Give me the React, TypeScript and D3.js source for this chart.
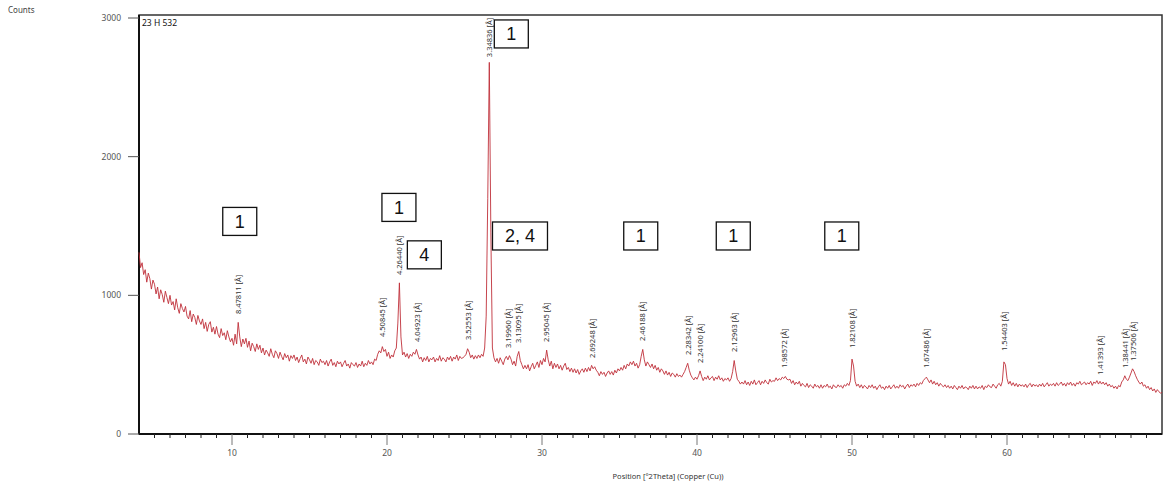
// @ts-nocheck
import React, { useEffect, useRef } from 'react';
import * as d3 from 'd3';

// scan: counts every 0.1 °2Theta starting at 4.0
const thetaStart = 4;
const thetaStep = 0.1;
const counts = [
  1310, 1200, 1235, 1150, 1185, 1095, 1160, 1120, 1045, 1110,
  1080, 1010, 1060, 975, 1040, 1005, 950, 1030, 985, 940,
  1000, 930, 955, 895, 975, 910, 870, 940, 905, 880,
  920, 850, 830, 890, 810, 865, 840, 790, 855, 815,
  790, 830, 760, 805, 740, 790, 810, 735, 770, 720,
  775, 720, 695, 760, 710, 730, 680, 745, 700, 665,
  690, 640, 720, 650, 805, 700, 630, 685, 650, 690,
  625, 670, 600, 655, 630, 595, 650, 610, 640, 585,
  620, 570, 605, 585, 560, 615, 575, 550, 600, 580,
  545, 590, 560, 535, 580, 550, 570, 525, 565, 545,
  570, 530, 555, 515, 545, 570, 520, 540, 505, 555,
  535, 510, 545, 500, 530, 520, 495, 540, 515, 525,
  500, 530, 490, 520, 540, 495, 515, 485, 525, 505,
  520, 485, 510, 530, 490, 505, 475, 515, 500, 490,
  515, 480, 505, 490, 525, 485, 510, 495, 530, 505,
  520, 500, 540, 530, 575, 600, 585, 630, 595, 610,
  560, 590, 545, 570, 555, 600, 620, 800, 1090, 700,
  570, 590, 555, 580, 545, 575, 560, 590, 575, 610,
  570, 540, 555, 520, 550, 530, 560, 520, 545, 535,
  555, 520, 545, 530, 565, 525, 550, 540, 520, 555,
  535, 560, 525, 555, 540, 570, 530, 560, 545, 550,
  560, 575, 615, 590, 550, 570, 540, 565, 545, 570,
  550, 575, 560, 620, 850, 1700, 2680, 1450, 620, 550,
  520, 545, 510, 550, 525, 500, 540, 560, 535, 565,
  540, 500, 525, 490, 560, 595, 530, 500, 470, 495,
  470, 500, 455, 485, 510, 470, 495, 520, 480, 530,
  500, 545, 520, 605, 535, 490, 525, 470, 510, 480,
  505, 470, 495, 460, 490, 510, 465, 480, 450, 475,
  445, 470, 440, 465, 430, 455, 470, 445, 475, 450,
  480, 455, 495, 470, 485, 460, 445, 420, 450, 430,
  445, 415, 440, 455, 430, 450, 425, 460, 440, 470,
  455, 480, 460, 495, 470, 505, 490, 520, 500, 525,
  490, 510, 475, 500, 560, 610, 535, 490, 520, 500,
  480, 505, 470, 495, 460, 480, 445, 470, 455, 430,
  455, 425, 445, 415, 440, 430, 410, 435, 415, 425,
  410, 430, 450, 480, 510, 460, 425, 405, 390, 410,
  395, 420, 455, 415, 385, 410, 395, 420, 390, 405,
  415, 385, 410, 395, 420, 390, 405, 380, 400, 390,
  405, 380, 400, 450, 530, 455, 395, 380, 360, 375,
  360, 385, 355, 375, 350, 380, 360, 390, 355, 370,
  385, 355, 380, 365, 390, 370, 360, 395, 375, 385,
  380, 405, 385, 400, 390, 410, 400, 415, 395, 390,
  395, 365, 385, 355, 375, 360, 380, 345, 365, 350,
  340, 365, 335, 355, 345, 330, 360, 340, 350, 330,
  355, 330, 350, 340, 360, 335, 345, 325, 355, 340,
  335, 355, 340, 350, 330, 355, 345, 365, 350, 385,
  540, 490, 380, 345, 360, 335, 355, 330, 350, 340,
  325, 350, 335, 355, 330, 345, 320, 340, 355, 330,
  340, 320, 345, 330, 350, 325, 340, 355, 330, 345,
  330, 355, 340, 350, 325, 345, 360, 335, 355, 345,
  360, 340, 365, 350, 370, 360, 385, 398, 410, 390,
  370, 390, 360, 380, 355, 370, 345, 365, 350, 340,
  355, 335, 350, 330, 345, 325, 350, 335, 320, 345,
  330, 350, 325, 340, 335, 320, 345, 330, 350, 325,
  345, 325, 340, 330, 350, 320, 345, 335, 355, 340,
  335, 360, 345, 330, 355, 365, 345, 380, 520, 500,
  400, 360, 380, 350, 370, 345, 365, 340, 360, 345,
  355, 340, 360, 335, 355, 365, 340, 360, 345, 355,
  340, 360, 345, 365, 340, 355, 370, 345, 360, 350,
  365, 345, 370, 350, 360, 375, 350, 365, 345, 370,
  355, 375, 350, 365, 345, 370, 360, 380, 355, 365,
  375, 355, 370, 360, 380, 350, 375, 365, 385, 360,
  380, 360, 375, 355, 370, 345, 360, 340, 350, 330,
  345, 325, 350, 340, 375, 390, 420, 395, 385, 410,
  440, 470, 450, 420, 395, 375, 360, 375, 345, 355,
  330, 345, 320, 335, 310, 325, 300, 320, 305, 295,
  300,
];

// identified reflections (d-spacing) with their 2Theta and peak top counts
const peakD = [
  '8.47811', '4.50845', '4.26440', '4.04923', '3.52553', '3.34836', '3.19960',
  '3.13095', '2.95045', '2.69248', '2.46188', '2.28342', '2.24100', '2.12963',
  '1.98572', '1.82108', '1.67486', '1.54403', '1.41393', '1.38441', '1.37506',
];
const peakTheta = [
  10.43, 19.67, 20.81, 21.93, 25.24, 26.6, 27.86,
  28.49, 30.27, 33.25, 36.47, 39.43, 40.21, 42.41,
  45.65, 50.05, 54.77, 59.85, 66.02, 67.62, 68.14,
];
const peakCounts = [
  807, 642, 1089, 606, 620, 2660, 562,
  598, 606, 490, 613, 512, 454, 534,
  418, 562, 418, 541, 368, 418, 469,
];

// phase markers
const boxText = ['1', '1', '4', '1', '2, 4', '1', '1', '1'];
const boxTheta = [10.5, 20.77, 22.41, 28.02, 28.58, 36.37, 42.34, 49.34];
const boxCounts = [1533, 1634, 1292, 2885, 1428, 1428, 1428, 1428];

const xTicks = [10, 20, 30, 40, 50, 60];
const yTicks = [0, 1000, 2000, 3000];

const W = 1171;
const H = 488;

const App = () => {
  const svgRef = useRef(null);

  useEffect(() => {
    const svg = d3.select(svgRef.current);
    svg.selectAll('*').remove();

    const x = d3.scaleLinear().domain([4, 70]).range([139, 1162]);
    const y = d3.scaleLinear().domain([0, 3000]).range([434, 18]);
    const top = 15;
    const uiFont = '"Noto Sans", "Open Sans", sans-serif';

    // frame
    svg.append('rect')
      .attr('x', x(4)).attr('y', top)
      .attr('width', x(70) - x(4)).attr('height', y(0) - top)
      .attr('fill', 'none')
      .attr('stroke', '#333')
      .attr('stroke-width', 1.5);
    svg.append('line')
      .attr('x1', x(4)).attr('x2', x(4)).attr('y1', top).attr('y2', y(0))
      .attr('stroke', '#111').attr('stroke-width', 2);
    svg.append('line')
      .attr('x1', x(4)).attr('x2', x(70)).attr('y1', y(0)).attr('y2', y(0))
      .attr('stroke', '#111').attr('stroke-width', 2);

    // y ticks
    const gy = svg.append('g');
    gy.selectAll('line').data(yTicks).enter().append('line')
      .attr('x1', x(4) - 11).attr('x2', x(4))
      .attr('y1', d => y(d)).attr('y2', d => y(d))
      .attr('stroke', '#555').attr('stroke-width', 1);
    gy.selectAll('text').data(yTicks).enter().append('text')
      .attr('x', x(4) - 18).attr('y', d => y(d))
      .attr('dy', '0.35em')
      .attr('text-anchor', 'end')
      .attr('font-family', uiFont).attr('font-size', 8.5).attr('fill', '#555')
      .text(d => d);

    // x ticks, every degree
    const minor = d3.range(5, 70, 1);
    const gx = svg.append('g');
    gx.selectAll('line').data(minor).enter().append('line')
      .attr('x1', d => x(d)).attr('x2', d => x(d))
      .attr('y1', y(0))
      .attr('y2', d => y(0) + (xTicks.includes(d) ? 11 : 4))
      .attr('stroke', d => (xTicks.includes(d) ? '#777' : '#222'))
      .attr('stroke-width', 1);
    gx.selectAll('text').data(xTicks).enter().append('text')
      .attr('x', d => x(d)).attr('y', 456)
      .attr('text-anchor', 'middle')
      .attr('font-family', uiFont).attr('font-size', 8.5).attr('fill', '#555')
      .text(d => d);

    svg.append('text')
      .attr('x', 668).attr('y', 479)
      .attr('text-anchor', 'middle')
      .attr('font-family', uiFont).attr('font-size', 7.5).attr('fill', '#333')
      .text('Position [°2Theta] (Copper (Cu))');

    svg.append('text')
      .attr('x', 8).attr('y', 13)
      .attr('font-family', uiFont).attr('font-size', 8).attr('fill', '#444')
      .text('Counts');

    svg.append('text')
      .attr('x', 142).attr('y', 26)
      .attr('font-family', uiFont).attr('font-size', 8.5).attr('fill', '#111')
      .text('23 H 532');

    // pattern
    const pts = counts.map((c, i) => [thetaStart + i * thetaStep, c]);
    const line = d3.line().x(d => x(d[0])).y(d => y(d[1]));
    svg.append('path')
      .datum(pts)
      .attr('d', line)
      .attr('fill', 'none')
      .attr('stroke', '#c0303a')
      .attr('stroke-width', 0.9)
      .attr('stroke-linejoin', 'round');

    // peak labels
    const gp = svg.append('g');
    peakD.forEach((d, i) => {
      const px = x(peakTheta[i]);
      const py = y(peakCounts[i]) - 8;
      gp.append('text')
        .attr('transform', `translate(${px},${py}) rotate(-90)`)
        .attr('dy', '0.35em')
        .attr('font-family', uiFont).attr('font-size', 7.5).attr('fill', '#333')
        .text(`${d} [Å]`);
    });

    // phase boxes
    const gb = svg.append('g');
    boxText.forEach((t, i) => {
      const cx = x(boxTheta[i]);
      const cy = y(boxCounts[i]);
      const w = t.length > 1 ? 55 : 34;
      const h = 28;
      gb.append('rect')
        .attr('x', cx - w / 2).attr('y', cy - h / 2)
        .attr('width', w).attr('height', h)
        .attr('fill', '#fff').attr('stroke', '#111').attr('stroke-width', 1.3);
      gb.append('text')
        .attr('x', cx).attr('y', cy)
        .attr('dy', '0.36em')
        .attr('text-anchor', 'middle')
        .attr('font-family', '"Liberation Sans", Arial, sans-serif')
        .attr('font-size', 18).attr('fill', '#111')
        .text(t);
    });
  }, []);

  return (
    <svg
      ref={svgRef}
      width={W}
      height={H}
      style={{ position: 'absolute', left: 0, top: 0, background: '#fff' }}
    />
  );
};

export default App;
